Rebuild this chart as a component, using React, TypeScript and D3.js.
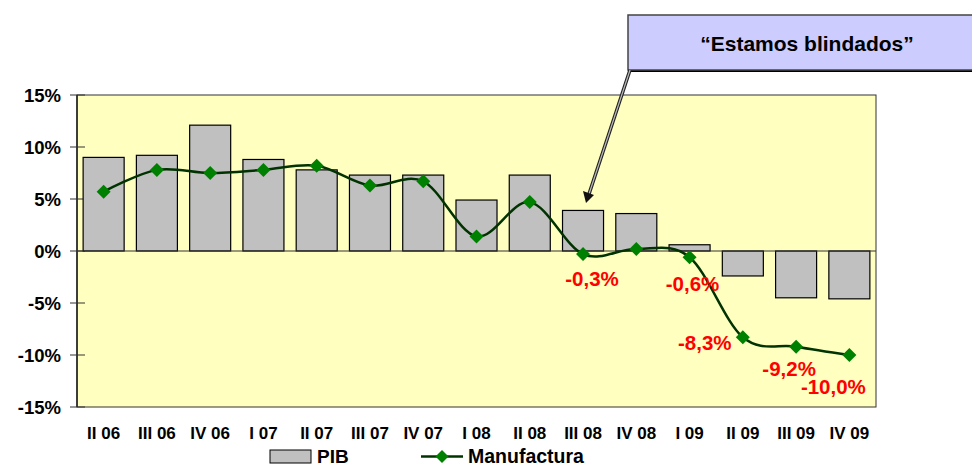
import React from "react";
import * as d3 from "d3";

const categories = ["II 06","III 06","IV 06","I 07","II 07","III 07","IV 07","I 08","II 08","III 08","IV 08","I 09","II 09","III 09","IV 09"];
const pib = [9.0, 9.2, 12.1, 8.8, 7.8, 7.3, 7.3, 4.9, 7.3, 3.9, 3.6, 0.6, -2.4, -4.5, -4.6];
const manufactura = [5.7, 7.8, 7.5, 7.8, 8.2, 6.3, 6.7, 1.4, 4.7, -0.3, 0.2, -0.6, -8.3, -9.2, -10.0];
const yTicks = [15, 10, 5, 0, -5, -10, -15];
const labelled = [
  { i: 9, text: "-0,3%", dx: 9, dy: 32 },
  { i: 11, text: "-0,6%", dx: 3, dy: 34 },
  { i: 12, text: "-8,3%", dx: -38, dy: 13 },
  { i: 13, text: "-9,2%", dx: -7, dy: 29 },
  { i: 14, text: "-10,0%", dx: -16, dy: 39 },
];

const W = 972, H = 466;
const left = 77, right = 876, top = 95, bottom = 407;
const font = "Liberation Sans, Arial, sans-serif";

export default function App() {
  const x = d3.scaleBand<string>().domain(categories).range([left, right]).paddingInner(0.23).paddingOuter(0.115);
  const y = d3.scaleLinear().domain([-15, 15]).range([bottom, top]);
  const cx = (i: number) => (x(categories[i]) as number) + x.bandwidth() / 2;
  const line = d3.line<number>().x((_, i) => cx(i)).y((d) => y(d)).curve(d3.curveCatmullRom.alpha(0));
  const diamond = (px: number, py: number, r = 7) => `M${px},${py - r}L${px + r},${py}L${px},${py + r}L${px - r},${py}Z`;

  return (
    <svg width={W} height={H} style={{ position: "absolute", left: 0, top: 0 }} fontFamily={font}>
      <rect x={0} y={0} width={W} height={H} fill="#ffffff" />
      <rect x={left} y={top} width={right - left} height={bottom - top} fill="#ffffc0" stroke="#333" strokeWidth={1} />
      {/* y axis */}
      <line x1={left} x2={left} y1={top} y2={bottom} stroke="#000" strokeWidth={1.2} />
      {yTicks.map((t) => (
        <g key={t}>
          <line x1={70} x2={left + 8} y1={y(t)} y2={y(t)} stroke="#333" strokeWidth={1} />
          <text x={61} y={y(t)} dy="0.36em" textAnchor="end" fontSize={18.5} fontWeight="bold" fill="#000">{`${t}%`}</text>
        </g>
      ))}
      {/* bars */}
      {pib.map((v, i) => (
        <rect key={i} x={x(categories[i])} y={y(Math.max(0, v))} width={x.bandwidth()} height={Math.abs(y(v) - y(0))}
          fill="#c0c0c0" stroke="#000" strokeWidth={1.2} />
      ))}
      <line x1={left} x2={right} y1={y(0)} y2={y(0)} stroke="#333" strokeWidth={1} />
      {/* line */}
      <path d={line(manufactura) || ""} fill="none" stroke="#003300" strokeWidth={2.5} />
      {manufactura.map((v, i) => (
        <path key={i} d={diamond(cx(i), y(v))} fill="#008000" />
      ))}
      {labelled.map((l) => (
        <text key={l.i} x={cx(l.i) + l.dx} y={y(manufactura[l.i]) + l.dy} textAnchor="middle" fontSize={20.5} fontWeight="bold" fill="#ff0000">{l.text}</text>
      ))}
      {/* x labels */}
      {categories.map((c, i) => (
        <text key={c} x={cx(i)} y={439} textAnchor="middle" fontSize={17} fontWeight="bold" fill="#000">{c}</text>
      ))}
      {/* legend */}
      <rect x={270} y={450} width={41} height={13} fill="#c0c0c0" stroke="#000" strokeWidth={1} />
      <text x={317} y={462.5} fontSize={19} fontWeight="bold" fill="#000">PIB</text>
      <line x1={421} x2={463} y1={456.5} y2={456.5} stroke="#003300" strokeWidth={2.5} />
      <path d={diamond(442, 456.5, 6.5)} fill="#008000" />
      <text x={468} y={462.5} fontSize={19.5} fontWeight="bold" fill="#000">Manufactura</text>
      {/* callout */}
      <rect x={631} y={17} width={345} height={55} fill="#000" />
      <rect x={628} y={15} width={345} height={55} fill="#ccccff" stroke="#444" strokeWidth={1.5} />
      <text x={807} y={51} textAnchor="middle" fontSize={21} fontWeight="bold" fill="#000">“Estamos blindados”</text>
      <line x1={630} y1={70} x2={589} y2={194} stroke="#222" strokeWidth={3.5} />
      <line x1={630} y1={70} x2={589} y2={194} stroke="#bbb" strokeWidth={1.2} />
      <path d="M586,203 L583,191 L594,195 Z" fill="#111" />
    </svg>
  );
}
